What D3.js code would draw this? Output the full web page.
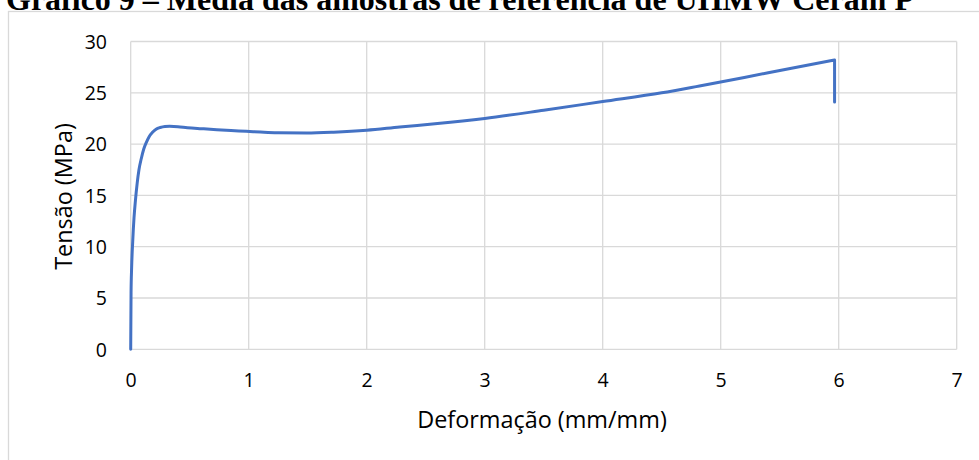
<!DOCTYPE html>
<html>
<head>
<meta charset="utf-8">
<script src="https://cdn.jsdelivr.net/npm/d3@7"></script>
<style>
  html, body { margin: 0; padding: 0; background: #fff; }
  svg { display: block; }
</style>
</head>
<body>
<svg id="chart" width="979" height="460"></svg>
<script>
// Average stress–strain curve of the reference samples
const titleText = "Gráfico 9 – Média das amostras de referência de UHMW Ceram P";
const xLabel = "Deformação (mm/mm)";
const yLabel = "Tensão (MPa)";

const strain = [0, 0.003, 0.008, 0.017, 0.028, 0.04, 0.055, 0.07, 0.09, 0.11, 0.13, 0.155,
  0.185, 0.215, 0.25, 0.29, 0.33, 0.4, 0.48, 0.6, 0.73, 0.85, 0.98, 1.1, 1.24, 1.49,
  1.72, 2.0, 2.28, 2.6, 3.0, 3.5, 4.0, 4.5, 4.82, 5.2, 5.6, 5.965];
const stress = [0, 5.5, 8, 10.5, 12.8, 14.5, 16.2, 17.5, 18.6, 19.5, 20.1, 20.7,
  21.15, 21.45, 21.62, 21.72, 21.74, 21.7, 21.6, 21.5, 21.4, 21.32, 21.25, 21.17, 21.1, 21.08,
  21.16, 21.35, 21.67, 22.0, 22.5, 23.3, 24.15, 25.0, 25.67, 26.5, 27.4, 28.2];

// rupture: sudden stress drop at the final strain
const ruptureStrain = [5.965];
const ruptureStress = [24.1];

const xTicks = [0, 1, 2, 3, 4, 5, 6, 7];
const yTicks = [0, 5, 10, 15, 20, 25, 30];

const svg = d3.select("#chart");
const plot = { left: 130.7, right: 956.7, top: 41.5, bottom: 349.3 };

const x = d3.scaleLinear().domain([0, 7]).range([plot.left, plot.right]);
const y = d3.scaleLinear().domain([0, 30]).range([plot.bottom, plot.top]);

// outer chart frame
svg.append("rect")
  .attr("x", 8.5).attr("y", 11.5)
  .attr("width", 1000).attr("height", 500)
  .attr("fill", "#fff").attr("stroke", "#d9d9d9").attr("stroke-width", 1.3);

// title (heading above the frame)
svg.append("text")
  .attr("x", 6).attr("y", 9.5)
  .attr("font-family", "'Liberation Serif', 'Times New Roman', serif")
  .attr("font-weight", "bold")
  .attr("font-size", 32)
  .attr("fill", "#000")
  .text(titleText);

// gridlines
const grid = svg.append("g").attr("stroke", "#d9d9d9").attr("stroke-width", 1.3);
grid.selectAll("line.h").data(yTicks).join("line")
  .attr("x1", plot.left).attr("x2", plot.right)
  .attr("y1", d => y(d)).attr("y2", d => y(d));
grid.selectAll("line.v").data(xTicks).join("line")
  .attr("y1", plot.top).attr("y2", plot.bottom)
  .attr("x1", d => x(d)).attr("x2", d => x(d));

const font = "'Open Sans', 'Noto Sans', sans-serif";

// axis tick labels
const xAxis = d3.axisBottom(x).tickValues(xTicks).tickSize(0).tickPadding(0).tickFormat(d3.format("d"));
const gx = svg.append("g").attr("transform", `translate(0,${plot.bottom})`).call(xAxis);
gx.select(".domain").remove();
gx.selectAll("text")
  .attr("y", 38).attr("dy", 0)
  .attr("font-family", font).attr("font-size", 19.5).attr("fill", "#000");

const yAxis = d3.axisLeft(y).tickValues(yTicks).tickSize(0).tickPadding(0).tickFormat(d3.format("d"));
const gy = svg.append("g").attr("transform", `translate(107,0)`).call(yAxis);
gy.select(".domain").remove();
gy.selectAll("text")
  .attr("x", 0).attr("dy", "0.35em")
  .attr("font-family", font).attr("font-size", 19.5).attr("fill", "#000");

// axis titles
svg.append("text")
  .attr("x", 542).attr("y", 428)
  .attr("text-anchor", "middle")
  .attr("font-family", font).attr("font-size", 23.4).attr("fill", "#000")
  .text(xLabel);

svg.append("text")
  .attr("transform", `translate(72,196.5) rotate(-90)`)
  .attr("text-anchor", "middle")
  .attr("font-family", font).attr("font-size", 23.4).attr("fill", "#000")
  .text(yLabel);

// stress–strain curve: smooth loading branch, then straight drop at rupture
const pts = strain.map((s, i) => [s, stress[i]]);
const smooth = d3.line()
  .x(d => x(d[0]))
  .y(d => y(d[1]))
  .curve(d3.curveMonotoneX);
const drop = ruptureStrain.map((s, i) => `L${x(s)},${y(ruptureStress[i])}`).join("");

svg.append("path")
  .attr("d", smooth(pts) + drop)
  .attr("fill", "none")
  .attr("stroke", "#4472c4")
  .attr("stroke-width", 3)
  .attr("stroke-linejoin", "round")
  .attr("stroke-linecap", "round");
</script>
</body>
</html>
